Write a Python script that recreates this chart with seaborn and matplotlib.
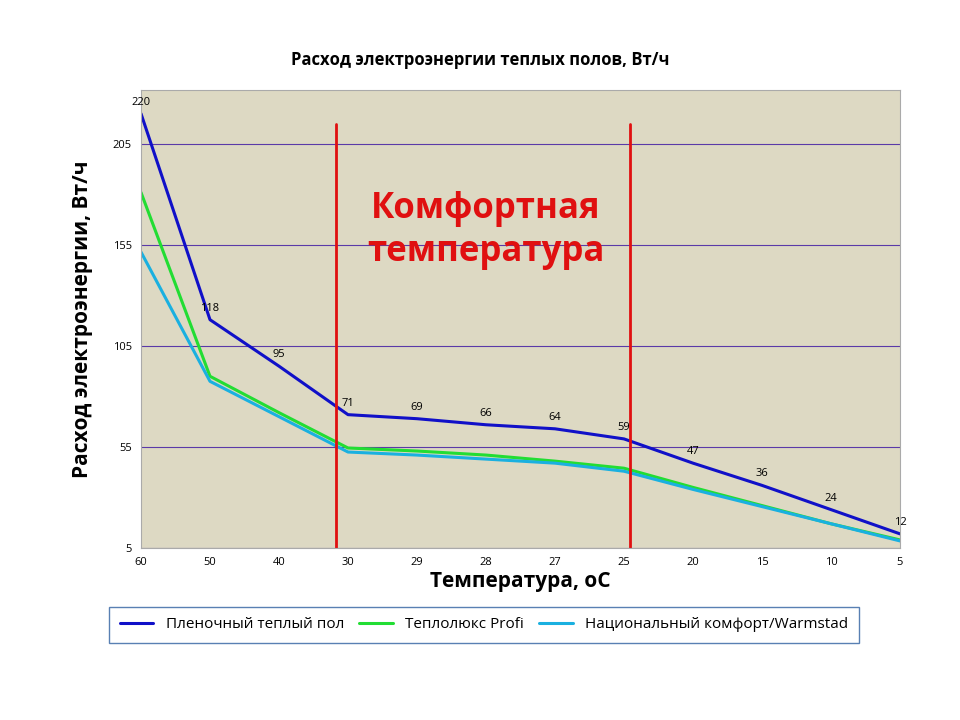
import matplotlib
matplotlib.use("Agg")
import matplotlib.pyplot as plt
import seaborn as sns
import pandas as pd

temps = ["60","50","40","30","29","28","27","25","20","15","10","5"]
film = [220,118,95,71,69,66,64,59,47,36,24,12]
teplolux = [181,90,72,54.5,53,51,48,44.5,35,26,17,9]
national = [151.5,87.5,70,52.5,51,49,47,43,34,25.5,17,8.5]
names = ["Пленочный теплый пол","Теплолюкс Profi","Национальный комфорт/Warmstad"]
colors = ["#1010c8","#22dd33","#1ab0e0"]
yticks = [5,55,105,155,205]

sns.set_style("white")
plt.rcParams['font.family'] = ['Open Sans', 'DejaVu Sans']
plt.rcParams['text.color'] = 'black'
fig = plt.figure(figsize=(9.6,7.2), dpi=100)
ax = fig.add_axes([141/960, 1-548/720, 759/960, 458/720])
ax.set_facecolor("#ddd9c3")
ax.set_axisbelow(True)
ax.yaxis.grid(True, color="#5a3aa8", lw=0.8)
ax.xaxis.grid(False)
df = pd.DataFrame({"x": list(range(len(temps)))*3,
                   "y": film+teplolux+national,
                   "s": sum([[n]*len(temps) for n in names], [])})
sns.lineplot(data=df, x="x", y="y", hue="s", palette=colors, ax=ax, linewidth=2.2, legend=False)
for i, v in enumerate(film):
    ax.text(i, v+3, str(v), ha="center", va="bottom", fontsize=8, color="black")
ax.set_xlim(0, len(temps)-1)
ax.set_ylim(5, 231.7)
ax.set_xticks(range(len(temps)))
ax.set_xticklabels(temps, fontsize=8)
ax.set_yticks(yticks)
ax.set_yticklabels([str(t) for t in yticks], fontsize=8)
for xv in [2.83, 7.09]:
    ax.plot([xv, xv], [5, 215], color="#e01010", lw=2)
ax.text(5.0, 162, "Комфортная\nтемпература", color="#e01010", fontsize=25, fontweight="bold", ha="center", va="center", linespacing=1.25)
for s in ax.spines.values():
    s.set_color("#aaaaaa"); s.set_linewidth(0.8)
ax.tick_params(length=3, color="#888888", labelcolor="black")
ax.set_xlabel("Температура, оС", fontsize=15, fontweight="bold", labelpad=2, color="black")
ax.set_ylabel("Расход электроэнергии, Вт/ч", fontsize=15, fontweight="bold", labelpad=14, color="black")
fig.text(0.5, 1-60/720, "Расход электроэнергии теплых полов, Вт/ч", ha="center", va="center", fontsize=12, fontweight="bold", color="black")
from matplotlib.lines import Line2D
handles = [Line2D([0],[0],color=c,lw=2.2) for c in colors]
leg = fig.legend(handles, names, loc="center", bbox_to_anchor=(484/960, 1-625/720), ncol=3, frameon=True, fontsize=11, fancybox=False, handlelength=2.2, columnspacing=1.0, borderpad=0.7, borderaxespad=0)
leg.get_frame().set_edgecolor("#3060a0")
fig.savefig("out.png")
